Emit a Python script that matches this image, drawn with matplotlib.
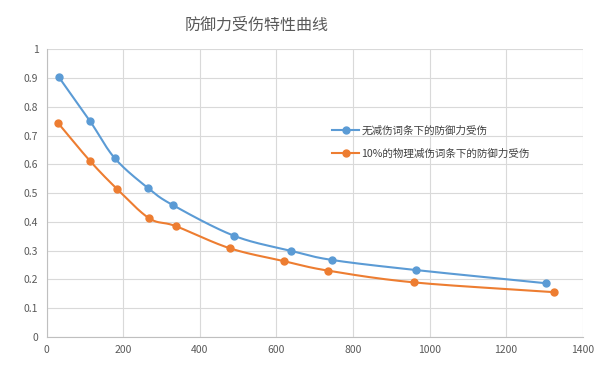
import numpy as np
import matplotlib
matplotlib.use("Agg")
import matplotlib.pyplot as plt

plt.rcParams['font.family'] = ['Noto Sans CJK SC', 'DejaVu Sans']

title = "防御力受伤特性曲线"
series_names = ["无减伤词条下的防御力受伤", "10%的物理减伤词条下的防御力受伤"]
x_blue = [31, 113, 178, 265, 331, 490, 638, 746, 965, 1305]
y_blue = [0.905, 0.751, 0.621, 0.517, 0.457, 0.351, 0.299, 0.267, 0.232, 0.186]
x_orange = [29, 113, 184, 268, 337, 478, 620, 735, 960, 1326]
y_orange = [0.745, 0.612, 0.514, 0.412, 0.385, 0.308, 0.263, 0.230, 0.189, 0.155]
x_ticks = [0, 200, 400, 600, 800, 1000, 1200, 1400]
y_ticks = [0, 0.1, 0.2, 0.3, 0.4, 0.5, 0.6, 0.7, 0.8, 0.9, 1]
y_tick_labels = ["0", "0.1", "0.2", "0.3", "0.4", "0.5", "0.6", "0.7", "0.8", "0.9", "1"]
colors = ["#5B9BD5", "#ED7D31"]


def smooth(xs, ys, n=30):
    """Catmull-Rom style smoothing through the points (like Excel smoothed lines)."""
    p = np.column_stack([xs, ys]).astype(float)
    p = np.vstack([p[0] - (p[1] - p[0]), p, p[-1] + (p[-1] - p[-2])])
    out = []
    for i in range(1, len(p) - 2):
        p0, p1, p2, p3 = p[i - 1], p[i], p[i + 1], p[i + 2]
        t = np.linspace(0, 1, n)[:, None]
        c1 = p1 + (p2 - p0) / 6.0
        c2 = p2 - (p3 - p1) / 6.0
        seg = ((1 - t) ** 3) * p1 + 3 * ((1 - t) ** 2) * t * c1 + 3 * (1 - t) * t ** 2 * c2 + t ** 3 * p2
        out.append(seg if i == 1 else seg[1:])
    out = np.vstack(out)
    return out[:, 0], out[:, 1]


fig = plt.figure(figsize=(6, 3.66), dpi=100)
ax = fig.add_axes([0.0778, 0.080, 0.8933, 0.785])

for xs, ys, c, name in [(x_blue, y_blue, colors[0], series_names[0]),
                        (x_orange, y_orange, colors[1], series_names[1])]:
    sx, sy = smooth(xs, ys)
    ax.plot(sx, sy, color=c, lw=1.5, solid_capstyle='round', zorder=3)
    ax.plot(xs, ys, 'o', color=c, ms=5, zorder=4)
    ax.plot([], [], '-o', color=c, lw=1.5, ms=5, label=name)

ax.set_xlim(0, 1400)
ax.set_ylim(0, 1)
ax.set_xticks(x_ticks)
ax.set_yticks(y_ticks)
ax.set_yticklabels(y_tick_labels)
ax.grid(True, color="#d9d9d9", lw=0.8)
ax.set_axisbelow(True)
for s in ['top', 'right']:
    ax.spines[s].set_visible(False)
for s in ['left', 'bottom']:
    ax.spines[s].set_color("#bfbfbf")
    ax.spines[s].set_linewidth(0.8)
ax.tick_params(length=0, labelsize=7.5, colors="#595959", pad=6)

fig.text(0.428, 0.932, title, ha='center', va='center', fontsize=11.5, color="#595959")

ax.legend(loc='upper left', bbox_to_anchor=(0.553, 0.656), bbox_transform=fig.transFigure,
          frameon=False, fontsize=7.6, handlelength=2.6, handletextpad=0.2,
          labelspacing=1.2, labelcolor="#404040", borderaxespad=0, borderpad=0)

fig.savefig("out.png", dpi=100)
